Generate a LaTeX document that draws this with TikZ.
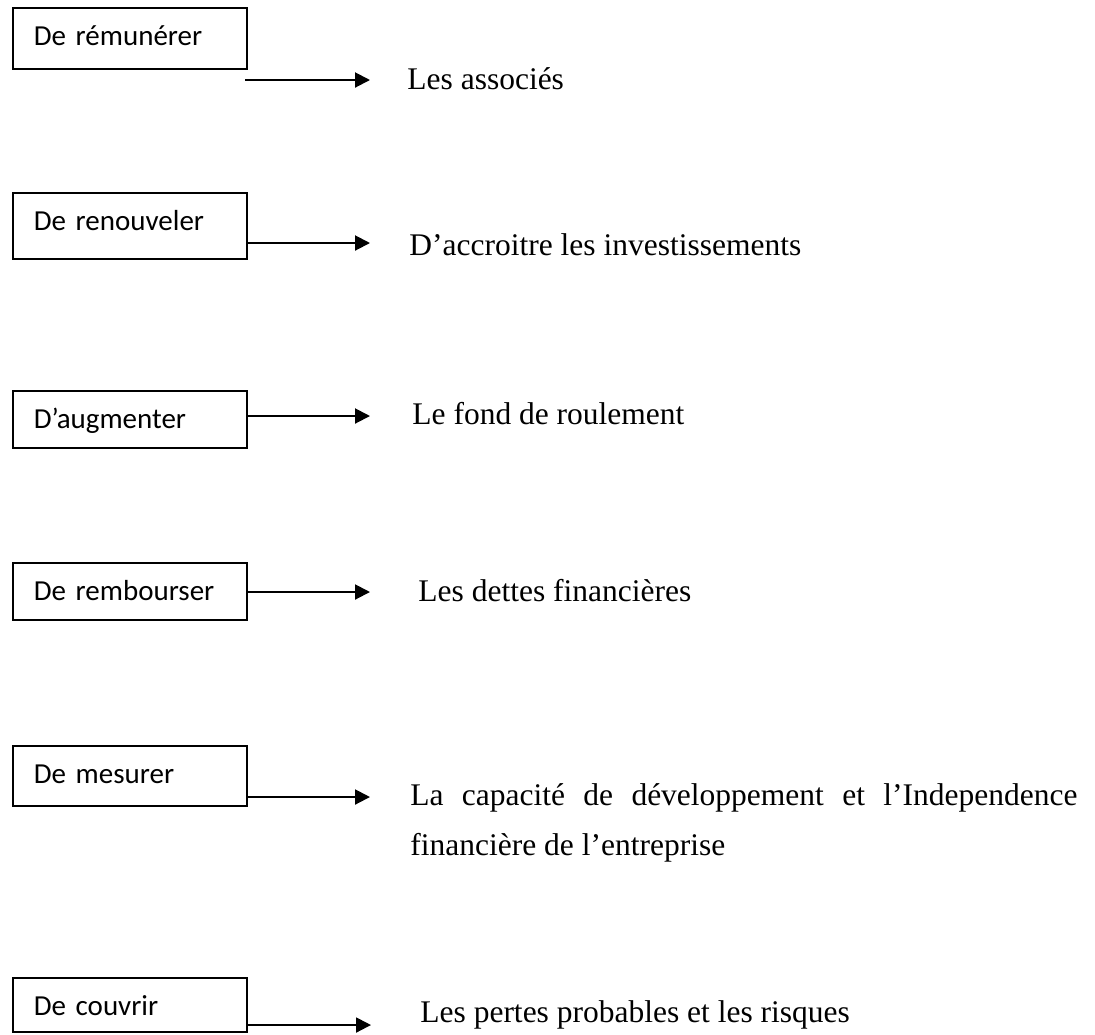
\documentclass[tikz,border=0pt]{standalone}
\usepackage{fontspec}
\setmainfont{Liberation Serif}
\newfontfamily\boitefont{Carlito}
\usetikzlibrary{arrows.meta,calc}

\begin{document}
\begin{tikzpicture}[x=0.5pt,y=-0.5pt,
  boite/.style={draw,line width=0.75pt,anchor=north west,inner xsep=10.5pt,inner ysep=0pt,
    text width=96pt,align=left,text height=19pt,font=\boitefont\fontsize{14.5}{17}\selectfont},
  texte/.style={anchor=base west,inner sep=0pt,font=\fontsize{15.75}{25}\selectfont},
  fleche/.style={line width=1pt,-{Triangle[length=7.5pt,width=7.5pt]}}]
\useasboundingbox (0,0) rectangle (1095,1034);
% les actions
\node[boite,text depth=11.5pt] (remunerer) at (12,7) {De rémunérer};
\node[boite,text depth=14pt] (renouveler) at (12,192) {De renouveler};
\node[boite,text depth=9.5pt] (augmenter) at (12,390) {D’augmenter};
\node[boite,text depth=9.5pt] (rembourser) at (12,562) {De rembourser};
\node[boite,text depth=11pt] (mesurer) at (12,745) {De mesurer};
\node[boite,text depth=8pt] (couvrir) at (12,977) {De couvrir};
% les objets
\node[texte] (associes) at (407,89) {Les associés};
\node[texte] (investissements) at (409,255) {D’accroitre les investissements};
\node[texte] (fond) at (412,424) {Le fond de roulement};
\node[texte] (dettes) at (418,601) {Les dettes financières};
\node[texte,text width=333.5pt,align=justify] (capacite) at (410,805)
  {La capacité de développement et l’Independence\linebreak financière de l’entreprise};
\node[texte] (pertes) at (420,1022) {Les pertes probables et les risques};
% les fleches
\coordinate (depart) at (245,80);
\coordinate (f1) at (370,80);
\coordinate (f2) at (370,243);
\coordinate (f3) at (370,416);
\coordinate (f4) at (370,592);
\coordinate (f5) at (370,797);
\coordinate (f6) at (371,1025);
\draw[fleche] (depart) -- (f1);
\draw[fleche] (renouveler.east |- f2) -- (f2);
\draw[fleche] (augmenter.east |- f3) -- (f3);
\draw[fleche] (rembourser.east |- f4) -- (f4);
\draw[fleche] (mesurer.east |- f5) -- (f5);
\draw[fleche] (couvrir.east |- f6) -- (f6);
\end{tikzpicture}
\end{document}
